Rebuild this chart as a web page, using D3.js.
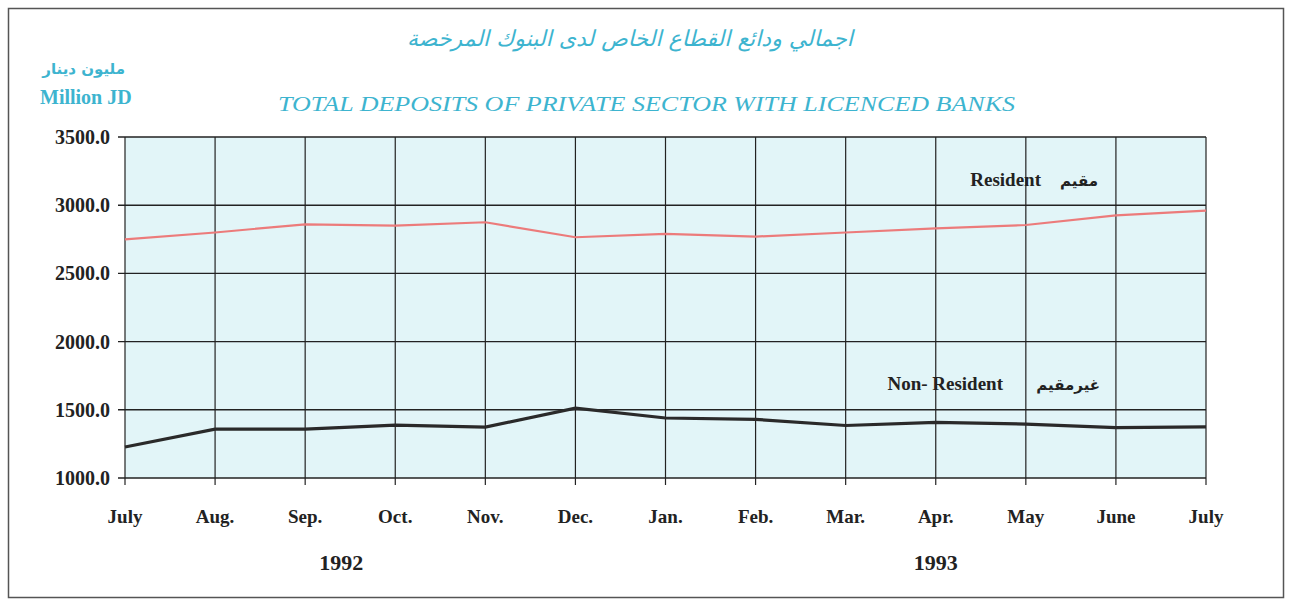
<!DOCTYPE html>
<html>
<head>
<meta charset="utf-8">
<script src="https://cdn.jsdelivr.net/npm/d3@7"></script>
<style>
  body { margin: 0; background: #fff; }
  svg { display: block; }
</style>
</head>
<body>
<svg width="1289" height="602"></svg>
<script>
// months along the x axis
var months = ['July', 'Aug.', 'Sep.', 'Oct.', 'Nov.', 'Dec.', 'Jan.', 'Feb.', 'Mar.', 'Apr.', 'May', 'June', 'July'];
// million JD
var resident = [2750, 2800, 2860, 2850, 2875, 2765, 2790, 2770, 2800, 2830, 2855, 2925, 2960];
var nonResident = [1227, 1358, 1358, 1388, 1373, 1512, 1440, 1430, 1385, 1408, 1395, 1370, 1375];
var yTicks = [1000, 1500, 2000, 2500, 3000, 3500];
var years = [{label: '1992', at: 2.4}, {label: '1993', at: 9}];

var svg = d3.select('svg');
var cyan = '#3db4cf';
var serif = '"Liberation Serif", "Times New Roman", serif';
var arabic = '"DejaVu Sans", sans-serif';

// page frame
svg.append('rect')
  .attr('x', 8.5).attr('y', 8.5).attr('width', 1275).attr('height', 589)
  .attr('fill', 'none').attr('stroke', '#555').attr('stroke-width', 1.5);

var pLeft = 125, pRight = 1206, pTop = 137, pBottom = 478;

var x = d3.scalePoint()
  .domain(d3.range(months.length))
  .range([pLeft, pRight]);

var y = d3.scaleLinear()
  .domain([1000, 3500])
  .range([pBottom, pTop]);

// plot background
svg.append('rect')
  .attr('x', pLeft).attr('y', pTop)
  .attr('width', pRight - pLeft).attr('height', pBottom - pTop)
  .attr('fill', '#e2f5f8');

// grid
svg.append('g')
  .selectAll('line')
  .data(yTicks)
  .join('line')
  .attr('x1', pLeft - 7).attr('x2', pRight)
  .attr('y1', function(d) { return y(d); })
  .attr('y2', function(d) { return y(d); })
  .attr('stroke', '#222').attr('stroke-width', 1.4);

svg.append('g')
  .selectAll('line')
  .data(d3.range(months.length))
  .join('line')
  .attr('x1', function(d) { return x(d); })
  .attr('x2', function(d) { return x(d); })
  .attr('y1', pTop).attr('y2', pBottom + 7)
  .attr('stroke', '#222').attr('stroke-width', 1.2);

// y labels
svg.append('g')
  .selectAll('text')
  .data(yTicks)
  .join('text')
  .attr('x', 110)
  .attr('y', function(d) { return y(d) + 7; })
  .attr('text-anchor', 'end')
  .attr('font-family', serif).attr('font-weight', 'bold').attr('font-size', 20)
  .attr('fill', '#222')
  .text(function(d) { return d3.format('.1f')(d); });

// x labels
svg.append('g')
  .selectAll('text')
  .data(months)
  .join('text')
  .attr('x', function(d, i) { return x(i); })
  .attr('y', 523)
  .attr('text-anchor', 'middle')
  .attr('font-family', serif).attr('font-weight', 'bold').attr('font-size', 19)
  .attr('fill', '#222')
  .text(function(d) { return d; });

svg.append('g')
  .selectAll('text')
  .data(years)
  .join('text')
  .attr('x', function(d) { return x(0) + d.at * (x(1) - x(0)); })
  .attr('y', 570)
  .attr('text-anchor', 'middle')
  .attr('font-family', serif).attr('font-weight', 'bold').attr('font-size', 22)
  .attr('fill', '#222')
  .text(function(d) { return d.label; });

// lines
var line = d3.line()
  .x(function(d, i) { return x(i); })
  .y(function(d) { return y(d); });

svg.append('path')
  .datum(resident)
  .attr('d', line)
  .attr('fill', 'none').attr('stroke', '#ec7b7b').attr('stroke-width', 2.2);

svg.append('path')
  .datum(nonResident)
  .attr('d', line)
  .attr('fill', 'none').attr('stroke', '#2a2a2a').attr('stroke-width', 3.2);

// series labels
function seriesLabel(en, ar, xEn, xAr, yy) {
  svg.append('text')
    .attr('x', xEn).attr('y', yy)
    .attr('text-anchor', 'end')
    .attr('font-family', serif).attr('font-weight', 'bold').attr('font-size', 19)
    .attr('fill', '#222')
    .text(en);
  svg.append('text')
    .attr('x', xAr).attr('y', yy)
    .attr('text-anchor', 'end')
    .attr('font-family', arabic).attr('font-weight', 'bold').attr('font-size', 15)
    .attr('fill', '#222')
    .text(ar);
}
seriesLabel('Resident', 'مقيم', 1041, 1098, 186);
seriesLabel('Non- Resident', 'غيرمقيم', 1003, 1100, 390);

// titles
svg.append('text')
  .attr('x', 630).attr('y', 46)
  .attr('text-anchor', 'middle')
  .attr('font-family', arabic).attr('font-style', 'italic').attr('font-size', 22)
  .attr('fill', cyan)
  .text('اجمالي ودائع القطاع الخاص لدى البنوك المرخصة');

svg.append('text')
  .attr('x', 278).attr('y', 111)
  .attr('textLength', 737).attr('lengthAdjust', 'spacingAndGlyphs')
  .attr('font-family', serif).attr('font-style', 'italic').attr('font-size', 22)
  .attr('fill', cyan)
  .text('TOTAL DEPOSITS OF PRIVATE SECTOR WITH LICENCED BANKS');

svg.append('text')
  .attr('x', 125).attr('y', 74)
  .attr('text-anchor', 'end')
  .attr('font-family', arabic).attr('font-weight', 'bold').attr('font-size', 15)
  .attr('fill', cyan)
  .text('مليون دينار');

svg.append('text')
  .attr('x', 40).attr('y', 104)
  .attr('font-family', serif).attr('font-weight', 'bold').attr('font-size', 20)
  .attr('fill', cyan)
  .text('Million JD');
</script>
</body>
</html>
